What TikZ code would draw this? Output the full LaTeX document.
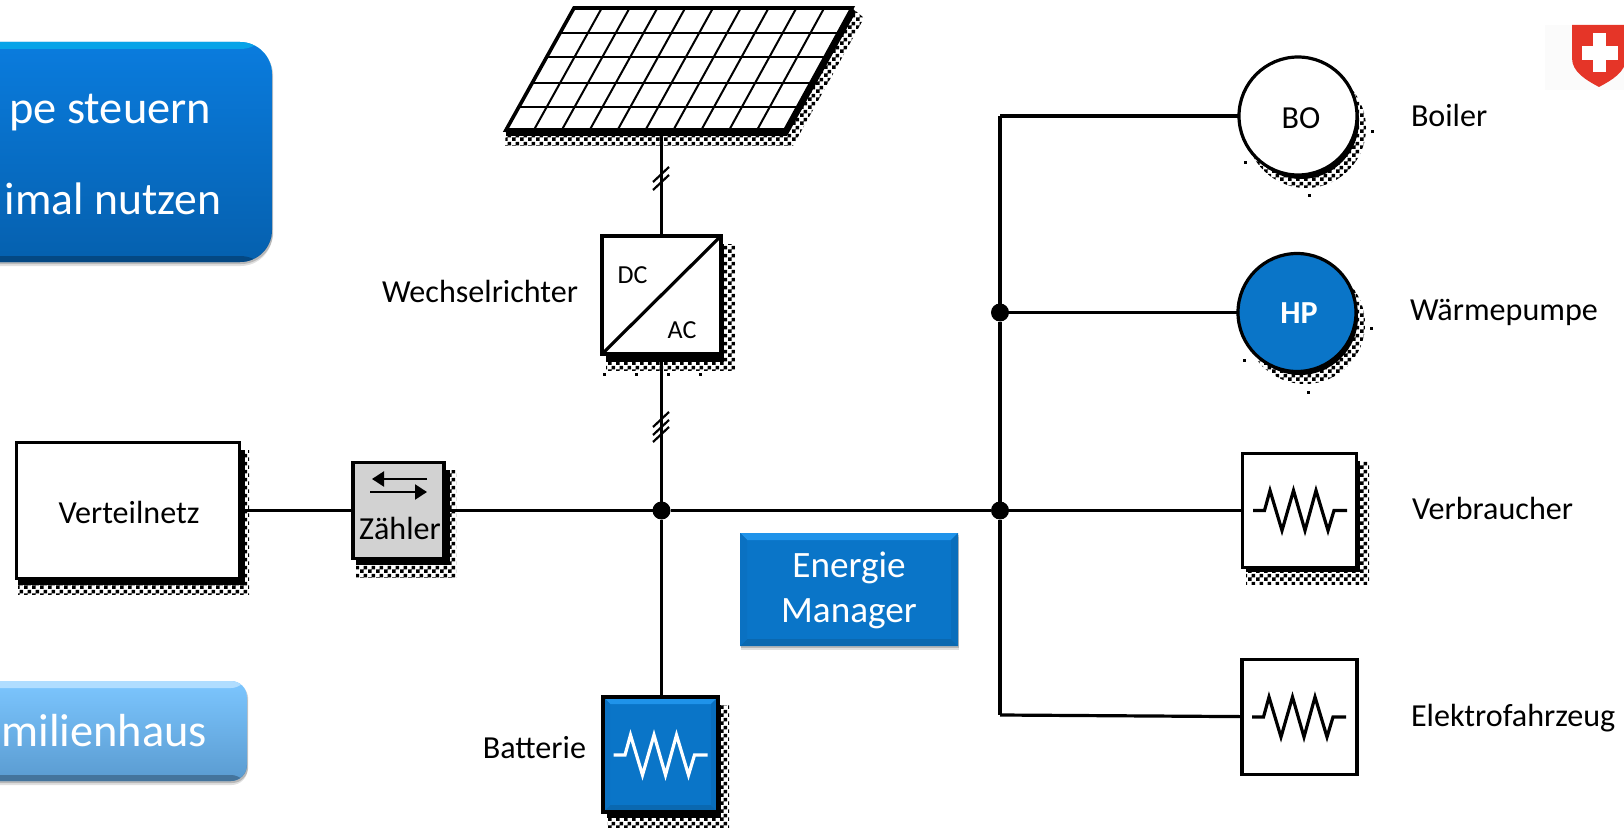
\documentclass[tikz,border=0pt]{standalone}
\usepackage{fontspec}
\setmainfont{Carlito}
\usetikzlibrary{patterns,arrows.meta,shadows}
\definecolor{hpblue}{HTML}{0A75C8}
\definecolor{hplight}{HTML}{1F93EA}
\definecolor{hpdark}{HTML}{0A68B0}
\definecolor{meter}{HTML}{D2D2D2}
\definecolor{swissred}{HTML}{E53528}
\pgfdeclarepatternformonly{chk}{\pgfpointorigin}{\pgfqpoint{4pt}{4pt}}{\pgfqpoint{4pt}{4pt}}{%
  \pgfpathrectangle{\pgfpointorigin}{\pgfqpoint{2pt}{2pt}}%
  \pgfpathrectangle{\pgfqpoint{2pt}{2pt}}{\pgfqpoint{2pt}{2pt}}%
  \pgfusepath{fill}}
\newcommand{\boxshadow}[8]{% x0 y0 x1 y1 solidx solidy chkx chky
  \fill[pattern=chk,pattern color=black] (#1+4,#2+8) rectangle (#3+#7,#4+#8);
  \fill[black] (#1+4,#2+8) rectangle (#3+#5,#4+#6);}
\newcommand{\zigzag}[3]{%
  \draw[shift={(#1,#2)},line width=1.6pt,miter limit=10,color=#3]
    (-47,0)--(-35.5,0)--(-30,-20)--(-18,20)--(-6.5,-20)--(5,20)--(16,-20)--(28,20)--(34,0)--(47,0);}
\newcommand{\speck}[2]{\fill[black] (#1-1.5,#2-1.5) rectangle (#1+1.5,#2+1.5);}
\tikzset{
  x=0.5pt,y=-0.5pt,
  wire/.style={line width=1.6pt},
  slash/.style={line width=1.1pt},
  blockbox/.style={draw=black,line width=1.8pt,fill=white,inner sep=0pt,outer sep=0pt,rectangle},
  roundel/.style={draw=black,line width=1.6pt,fill=white,circle,inner sep=0pt,outer sep=0pt,minimum size=59pt,
     font=\fontsize{16.05}{18}\selectfont,text height=12.3pt,text depth=0pt},
  joint/.style={circle,fill=black,inner sep=0pt,outer sep=0pt,minimum size=9pt},
  txt/.style={font=\fontsize{16.05}{18}\selectfont,inner sep=0pt,outer sep=0pt},
  smalltxt/.style={font=\fontsize{13}{15}\selectfont,inner sep=0pt,outer sep=0pt},
  btntxt/.style={font=\fontsize{23.2}{28}\selectfont,text=white,inner sep=0pt,outer sep=0pt},
  softshadow/.style={drop shadow={shadow xshift=0.6pt,shadow yshift=-1pt,opacity=.18,fill=black},
                     drop shadow={shadow xshift=0.3pt,shadow yshift=-2pt,opacity=.12,fill=black}},
  bevelled/.style={fill=hpblue,path picture={
    \fill[hplight] (path picture bounding box.north west)--(path picture bounding box.north east)
      --([shift={(-#1,#1)}]path picture bounding box.north east)--([shift={(#1,#1)}]path picture bounding box.north west)--cycle;
    \fill[hpdark] (path picture bounding box.south west)--(path picture bounding box.south east)
      --([shift={(-#1,-#1)}]path picture bounding box.south east)--([shift={(#1,-#1)}]path picture bounding box.south west)--cycle;
    \fill[hpblue!94!black] (path picture bounding box.north east)--(path picture bounding box.south east)
      --([shift={(-#1,-#1)}]path picture bounding box.south east)--([shift={(-#1,#1)}]path picture bounding box.north east)--cycle;
    \fill[hpblue!97!black] (path picture bounding box.north west)--(path picture bounding box.south west)
      --([shift={(#1,-#1)}]path picture bounding box.south west)--([shift={(#1,#1)}]path picture bounding box.north west)--cycle;}},
  gloss/.style n args={2}{path picture={
    \fill[#1] (path picture bounding box.north west) rectangle ([yshift=-3.5pt]path picture bounding box.north east);
    \fill[#2] ([yshift=3pt]path picture bounding box.south west) rectangle (path picture bounding box.south east);}},
}
\definecolor{btnAtop}{HTML}{0A7CDE}
\definecolor{btnAmid}{HTML}{0670C8}
\definecolor{btnAbot}{HTML}{0560AE}
\definecolor{btnBtop}{HTML}{7CC6FF}
\definecolor{btnBmid}{HTML}{6BB0E8}
\definecolor{btnBbot}{HTML}{5A9BD0}
\begin{document}
\begin{tikzpicture}
\useasboundingbox (0,0) rectangle (1624,829);
\clip (0,0) rectangle (1624,829);

% left buttons, cut by the page edge
\node[softshadow,rounded corners=16pt,minimum width=172pt,minimum height=110pt,inner sep=0pt,outer sep=0pt,
      top color=btnAtop,middle color=btnAmid,bottom color=btnAbot,
      gloss={btnAtop!70!cyan}{btnAbot!75!black}] (btnA) at (100,152) {};
\node[softshadow,rounded corners=8pt,minimum width=142pt,minimum height=50pt,inner sep=0pt,outer sep=0pt,
      top color=btnBtop,middle color=btnBmid,bottom color=btnBbot,
      gloss={btnBtop!60!white}{btnBbot!75!black}] (btnB) at (105,731) {};
\node[btntxt,anchor=base east] (tA) at (211,124) {pe steuern};
\node[btntxt,font=\fontsize{22.8}{28}\selectfont,anchor=base east] (tB) at (221,214) {imal nutzen};
\node[btntxt,anchor=base east] (tC) at (207,746) {milienhaus};

% logo
\fill[black!1.5] (1545,25) rectangle (1624,90);
\fill[swissred] (1572,25)--(1626,25)--(1626,58)..controls (1626,72) and (1612,80) .. (1599,87)
   .. controls (1586,80) and (1572,72) .. (1572,58)--cycle;
\fill[white] (1593,33) rectangle (1606,72);
\fill[white] (1582,46) rectangle (1618,60);

% dithered shadows
\fill[pattern=chk,pattern color=black] (506,130)--(852,8)--(864,18)--(793,146)--(505,146)--cycle;
\fill[black] (506,130)--(852,8)--(856,12)--(787,136)--(506,136)--cycle;
\boxshadow{14}{442}{240}{579}{5}{6}{9}{15}
\boxshadow{352}{462}{445}{559}{5}{6}{11}{18}
\boxshadow{602}{236}{721}{354}{3}{8}{14}{16}
\boxshadow{603}{697}{718}{812}{3}{6}{11}{15}
\boxshadow{1242}{453}{1357}{568}{3}{4}{12}{16}
\fill[pattern=chk,pattern color=black] (1306,128) circle[radius=60];
\fill[pattern=chk,pattern color=black] (1305,324) circle[radius=60];
\fill[black] (1301,121) circle[radius=58];
\fill[black] (1300,317) circle[radius=58];
\speck{1372}{132}\speck{1245}{163}\speck{1309}{196}
\speck{1371}{328}\speck{1244}{360}\speck{1308}{392}
\speck{604}{374}\speck{636}{374}\speck{668}{374}\speck{700}{374}

% photovoltaic panel
\fill[white] (574,8)--(852,8)--(785,130)--(506,130)--cycle;
\foreach \yy in {33,57,83,107}
  \draw[line width=1pt] ({506+(130-\yy)/122*68},\yy)--({785+(130-\yy)/122*67},\yy);
\foreach \i in {1,...,9}
  \draw[line width=1pt] ({506+\i*27.9},130)--({574+\i*27.8},8);
\draw[line width=1.8pt,line join=miter] (574,8)--(852,8)--(785,130)--(506,130)--cycle;
\coordinate (pv) at (661.5,130);

% blocks
\node[blockbox,minimum width=111.5pt,minimum height=68pt,txt,text height=13.3pt,text depth=0pt] (vn) at (128,510.5) {\hspace*{1pt}Verteilnetz};
\node[blockbox,fill=meter,minimum width=45.5pt,minimum height=48pt] (zl) at (398.5,510.5) {};
\node[blockbox,minimum width=59.5pt,minimum height=59pt] (inv) at (661.5,295) {};
\node[blockbox,bevelled=7,minimum width=57.5pt,minimum height=57.5pt] (bat) at (660.5,754.5) {};
\node[blockbox,minimum width=57pt,minimum height=57pt] (vb) at (1299.5,510.5) {};
\node[blockbox,line width=1.6pt,minimum width=57.5pt,minimum height=57.5pt] (ev) at (1299.5,717) {};
\node[roundel] (bo) at (1298,116) {\hspace*{3pt}BO};
\node[roundel,fill=hpblue,text=white,font=\fontsize{16.05}{18}\selectfont\bfseries,text height=11.3pt] (hp) at (1297,312.5) {\hspace*{2pt}HP};
\node[softshadow,bevelled=7,rectangle,inner sep=0pt,outer sep=0pt,minimum width=109pt,minimum height=56.5pt,
      text=white,align=center,font=\fontsize{18.6}{22.5}\selectfont] (em) at (849,589.5) {\rule{0pt}{14pt}Energie\\Manager};

% inside the blocks
\draw[wire] (inv.south west)--(inv.north east);
\node[smalltxt,anchor=base] (dc) at (632.5,283) {DC};
\node[smalltxt,anchor=base] (ac) at (682,338) {AC};
\node[txt,anchor=base] (zt) at (400,539) {Zähler};
\coordinate (al1) at (427,479); \coordinate (al0) at (372,479);
\coordinate (ar0) at (370,492); \coordinate (ar1) at (427,492);
\draw[line width=1.1pt,-{Triangle[length=6pt,width=7.5pt]}] (al1)--(al0);
\draw[line width=1.1pt,-{Triangle[length=6pt,width=7.5pt]}] (ar0)--(ar1);
\zigzag{660.5}{755}{white}
\zigzag{1300}{510.5}{black}
\zigzag{1299}{717}{black}

% labels
\node[txt,anchor=base east] (lw) at (578,302) {Wechselrichter};
\node[txt,anchor=base east] (lb) at (586,758) {Batterie};
\node[txt,anchor=base west] (l1) at (1411,127) {Boiler};
\node[txt,anchor=base west] (l2) at (1410,321) {Wärmepumpe};
\node[txt,anchor=base west] (l3) at (1412,519) {Verbraucher};
\node[txt,anchor=base west] (l4) at (1411,726) {Elektrofahrzeug};

% wiring
\node[joint] (j1) at (661.5,510.5) {};
\node[joint] (j2) at (1000,510.5) {};
\node[joint] (j3) at (1000,312.5) {};
\coordinate (bt) at (1000,116);
\coordinate (bb) at (1000,715);
\draw[wire] (vn)--(zl);
\draw[wire] (zl)--(j1);
\draw[wire] (j1)--(j2);
\draw[wire] (j2)--(vb);
\draw[wire] (pv)--(inv);
\draw[wire] (inv)--(j1);
\draw[wire] (j1)--(j1|-bat.north);
\draw[wire] (bt)--(j3);
\draw[wire] (j3)--(j2);
\draw[wire] (j2)--(bb);
\draw[wire] (bt)--(bo);
\draw[wire] (j3)--(hp);
\draw[wire] (bb)--(ev);

% conductor ticks
\draw[slash] (653,182)--(669,167);
\draw[slash] (653,190)--(669,175);
\draw[slash] (653,427)--(669,412);
\draw[slash] (653,435)--(669,420);
\draw[slash] (653,442)--(669,427);
\end{tikzpicture}
\end{document}
